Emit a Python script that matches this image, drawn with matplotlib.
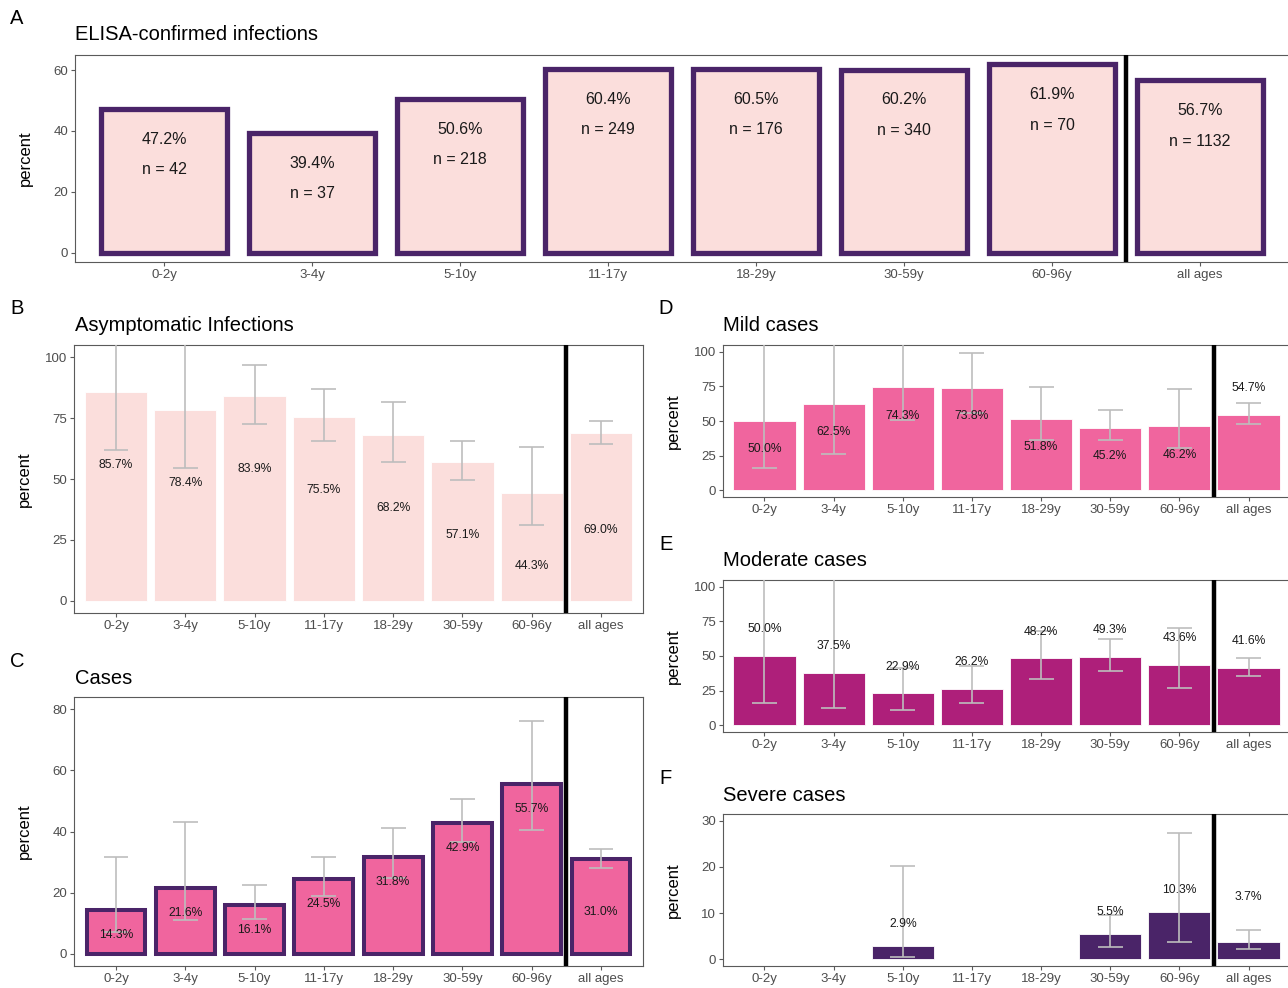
import numpy as np
import matplotlib
matplotlib.use("Agg")
import matplotlib.pyplot as plt

plt.rcParams['font.family'] = ['Liberation Sans', 'DejaVu Sans']

# ---- data -------------------------------------------------------------
age_groups = ["0-2y", "3-4y", "5-10y", "11-17y", "18-29y", "30-59y", "60-96y", "all ages"]

elisa_pct = [47.2, 39.4, 50.6, 60.4, 60.5, 60.2, 61.9, 56.7]
elisa_n = [42, 37, 218, 249, 176, 340, 70, 1132]

asym_pct = [85.7, 78.4, 83.9, 75.5, 68.2, 57.1, 44.3, 69.0]
asym_lo = [61.9, 54.5, 72.6, 65.4, 57.0, 49.7, 31.1, 64.3]
asym_hi = [112.0, 110.0, 96.9, 87.0, 81.5, 65.7, 63.0, 73.9]

cases_pct = [14.3, 21.6, 16.1, 24.5, 31.8, 42.9, 55.7, 31.0]
cases_lo = [7.2, 10.9, 11.5, 19.0, 24.8, 36.6, 40.6, 27.9]
cases_hi = [31.8, 43.2, 22.4, 31.6, 41.2, 50.5, 76.3, 34.4]

mild_pct = [50.0, 62.5, 74.3, 73.8, 51.8, 45.2, 46.2, 54.7]
mild_lo = [16.1, 26.0, 50.6, 56.0, 36.4, 35.9, 30.2, 47.5]
mild_hi = [115.0, 110.0, 108.0, 99.0, 74.7, 57.8, 73.5, 63.1]

moderate_pct = [50.0, 37.5, 22.9, 26.2, 48.2, 49.3, 43.6, 41.6]
moderate_lo = [16.0, 12.1, 11.1, 16.0, 33.2, 39.2, 27.1, 35.6]
moderate_hi = [115.0, 110.0, 41.0, 43.0, 68.0, 62.2, 70.2, 48.9]

nan = np.nan
severe_pct = [nan, nan, 2.9, nan, nan, 5.5, 10.3, 3.7]
severe_lo = [nan, nan, 0.4, nan, nan, 2.7, 3.8, 2.2]
severe_hi = [nan, nan, 20.3, nan, nan, 9.6, 27.4, 6.4]

# ---- style ------------------------------------------------------------
LIGHT_PINK = "#FBDEDC"
PINK = "#F0659E"
MAGENTA = "#AE1F7A"
PURPLE = "#4A2468"
ERR = "#BDBDBD"
TICK_GREY = "#4D4D4D"
FRAME = "#5A5A5A"

W, H = 1288, 988
fig = plt.figure(figsize=(W / 100, H / 100), dpi=100)
x = np.arange(len(age_groups))


def make_axes(left, right, top, bottom):
    ax = fig.add_axes([left / W, 1 - bottom / H, (right - left) / W, (bottom - top) / H])
    for s in ax.spines.values():
        s.set_color(FRAME)
        s.set_linewidth(0.8)
    ax.set_xlim(-0.6, len(age_groups) - 0.4)
    ax.set_xticks(x)
    ax.set_xticklabels(age_groups)
    ax.tick_params(axis='both', colors=FRAME, labelcolor=TICK_GREY, labelsize=9.5,
                   length=3, width=0.8, pad=2.2)
    ax.set_ylabel("percent", fontsize=12, color="black")
    ax.yaxis.set_label_coords(-42 / (right - left), 0.5)
    ax.axvline(len(age_groups) - 1.5, color="black", lw=3.2, zorder=4)
    return ax


def error_bars(ax, lo, hi, half=0.18):
    lo = np.asarray(lo, float)
    hi = np.asarray(hi, float)
    ok = ~np.isnan(lo)
    ax.vlines(x[ok], lo[ok], hi[ok], color=ERR, lw=1.2, zorder=3)
    ax.hlines(lo[ok], x[ok] - half, x[ok] + half, color=ERR, lw=1.2, zorder=3)
    ax.hlines(hi[ok], x[ok] - half, x[ok] + half, color=ERR, lw=1.2, zorder=3)


def value_labels(ax, vals, offset_group, offset_all, size=8.7):
    for i, v in enumerate(vals):
        if np.isnan(v):
            continue
        off = offset_all if i == len(vals) - 1 else offset_group
        ax.text(x[i], v + off, f"{v:.1f}%", ha="center", va="center",
                fontsize=size, color="#1a1a1a", zorder=5)


def heading(px, py, letter, lx, ly, title):
    fig.text(lx / W, 1 - ly / H, letter, fontsize=14.5, ha="center", va="center")
    fig.text(px / W, 1 - py / H, title, fontsize=14.5, ha="left", va="center")


# ---- A: ELISA-confirmed infections ------------------------------------
axA = make_axes(75.2, 1288.8, 55, 262)
axA.bar(x, elisa_pct, width=0.85, color=LIGHT_PINK, edgecolor=PURPLE, linewidth=3.8, zorder=2)
axA.set_ylim(-3.1, 65.0)
axA.set_yticks([0, 20, 40, 60])
for i, (v, n) in enumerate(zip(elisa_pct, elisa_n)):
    axA.text(x[i], v - 10, f"{v:.1f}%", ha="center", va="center", fontsize=11.5, color="#1a1a1a", zorder=5)
    axA.text(x[i], v - 20, f"n = {n}", ha="center", va="center", fontsize=11.5, color="#1a1a1a", zorder=5)
heading(75, 35, "A", 17, 19, "ELISA-confirmed infections")

# ---- B: asymptomatic infections ---------------------------------------
axB = make_axes(74.4, 642.6, 345, 613)
axB.bar(x, asym_pct, width=0.9, color=LIGHT_PINK, edgecolor="white", linewidth=0.6, zorder=2)
error_bars(axB, asym_lo, asym_hi)
axB.set_ylim(-5, 105)
axB.set_yticks([0, 25, 50, 75, 100])
value_labels(axB, asym_pct, -30, -40)
heading(75, 325, "B", 17, 309, "Asymptomatic Infections")

# ---- C: cases ---------------------------------------------------------
axC = make_axes(74.4, 642.6, 697, 966)
axC.bar(x, cases_pct, width=0.85, color=PINK, edgecolor=PURPLE, linewidth=2.9, zorder=2)
error_bars(axC, cases_lo, cases_hi)
axC.set_ylim(-4, 84)
axC.set_yticks([0, 20, 40, 60, 80])
value_labels(axC, cases_pct, -8.2, -17.3)
heading(75, 678, "C", 17, 661, "Cases")

# ---- D: mild cases ----------------------------------------------------
axD = make_axes(723, 1290, 345, 497)
axD.bar(x, mild_pct, width=0.9, color=PINK, edgecolor="white", linewidth=0.6, zorder=2)
error_bars(axD, mild_lo, mild_hi)
axD.set_ylim(-5, 105)
axD.set_yticks([0, 25, 50, 75, 100])
value_labels(axD, mild_pct, -20.5, 19.5)
heading(723, 325, "D", 666, 309, "Mild cases")

# ---- E: moderate cases ------------------------------------------------
axE = make_axes(723, 1290, 580, 732)
axE.bar(x, moderate_pct, width=0.9, color=MAGENTA, edgecolor="white", linewidth=0.6, zorder=2)
error_bars(axE, moderate_lo, moderate_hi)
axE.set_ylim(-5, 105)
axE.set_yticks([0, 25, 50, 75, 100])
value_labels(axE, moderate_pct, 19.5, 19.5)
heading(723, 561, "E", 666, 544, "Moderate cases")

# ---- F: severe cases --------------------------------------------------
axF = make_axes(723, 1290, 814, 966)
sev = np.asarray(severe_pct, float)
ok = ~np.isnan(sev)
axF.bar(x[ok], sev[ok], width=0.9, color=PURPLE, edgecolor="white", linewidth=0.6, zorder=2)
error_bars(axF, severe_lo, severe_hi)
axF.set_ylim(-1.5, 31.5)
axF.set_yticks([0, 10, 20, 30])
value_labels(axF, severe_pct, 4.8, 9.7)
heading(723, 795, "F", 666, 779, "Severe cases")

fig.savefig("out.png", dpi=100)
